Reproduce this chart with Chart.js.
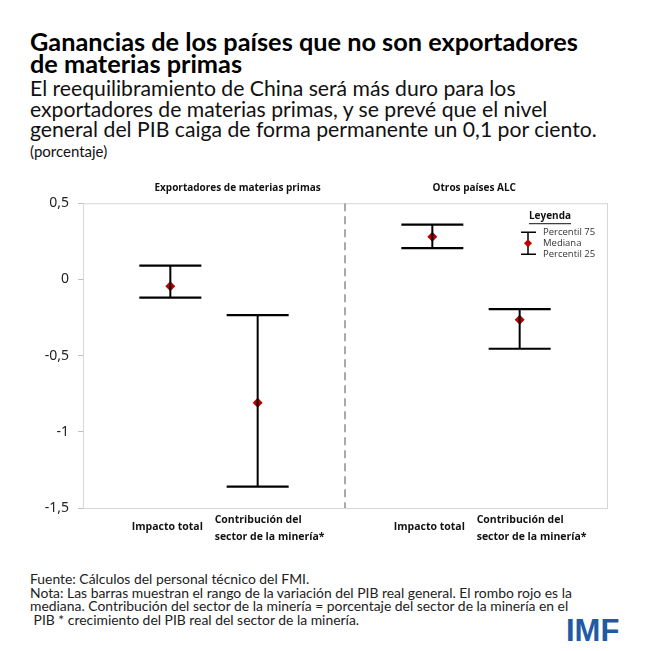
<!DOCTYPE html>
<html>
<head>
<meta charset="utf-8">
<script src="https://cdn.jsdelivr.net/npm/chart.js@4.4.0/dist/chart.umd.min.js"></script>
<style>
  body { margin: 0; background: #fff; width: 650px; height: 651px; position: relative; overflow: hidden; font-family: Lato, sans-serif; color: #111; }
  .titulo { position: absolute; left: 30px; top: 30px; font-weight: bold; font-size: 25.3px; line-height: 22px; color: #000; }
  .sub { position: absolute; left: 30px; top: 78px; font-size: 21.2px; line-height: 20.5px; }
  .unidad { position: absolute; left: 30px; top: 142px; font-size: 15px; }
  .notas { position: absolute; left: 30px; top: 572px; font-size: 13.9px; line-height: 13.7px; color: #222; }
  .imf { position: absolute; left: 566px; top: 613px; font: bold 31px 'Liberation Sans', sans-serif; color: #1f5aa6; }
  #marco { position: absolute; left: 0; top: 170px; width: 650px; height: 380px; }
</style>
</head>
<body>
<div class="titulo">Ganancias de los países que no son exportadores<br>de materias primas</div>
<div class="sub">El reequilibramiento de China será más duro para los<br>exportadores de materias primas, y se prevé que el nivel<br>general del PIB caiga de forma permanente un 0,1 por ciento.</div>
<div class="unidad">(porcentaje)</div>
<div id="marco"><canvas id="grafico"></canvas></div>
<div class="notas">Fuente: Cálculos del personal técnico del FMI.<br>Nota: Las barras muestran el rango de la variación del PIB real general. El rombo rojo es la<br>mediana. Contribución del sector de la minería = porcentaje del sector de la minería en el<br>&nbsp;PIB * crecimiento del PIB real del sector de la minería.</div>
<div class="imf">IMF</div>

<script>
// datos
const categorias = [['Impacto total'], ['Contribución del', 'sector de la minería*'], ['Impacto total'], ['Contribución del', 'sector de la minería*']];
const posiciones = [1, 2, 4, 5];
const percentil75 = [0.09, -0.235, 0.36, -0.195];
const mediana = [-0.045, -0.81, 0.28, -0.265];
const percentil25 = [-0.12, -1.36, 0.205, -0.455];
const grupos = ['Exportadores de materias primas', 'Otros países ALC'];
const separador = 3;

const rangos = [];
posiciones.forEach((x, i) => {
    rangos.push({ x: x, y: percentil75[i] }, { x: x, y: percentil25[i] }, { x: x, y: null });
});
const puntosMediana = posiciones.map((x, i) => ({ x: x, y: mediana[i] }));

const fuenteChart = "'Open Sans', sans-serif";

const textos = {
    id: 'textos',
    beforeDatasetsDraw(chart) {
        const { ctx, chartArea: a } = chart;
        ctx.save();
        ctx.strokeStyle = '#d6d6d6';
        ctx.lineWidth = 1;
        ctx.strokeRect(a.left + 0.5, a.top + 0.5, a.right - a.left, a.bottom - a.top);
        ctx.restore();
    },
    afterDraw(chart) {
        const { ctx, chartArea: a, scales } = chart;
        const x = scales.x;
        ctx.save();
        ctx.fillStyle = '#111';
        ctx.textBaseline = 'middle';

        // etiquetas de categoria
        ctx.font = 'bold 10.5px ' + fuenteChart;
        categorias.forEach((lineas, i) => {
            const px = x.getPixelForValue(posiciones[i]);
            if (lineas.length === 1) {
                ctx.textAlign = 'center';
                ctx.fillText(lineas[0], px - 3, a.bottom + 19);
            } else {
                ctx.textAlign = 'left';
                lineas.forEach((l, j) => ctx.fillText(l, px - 43, a.bottom + 12 + j * 17));
            }
        });

        // titulos de panel
        ctx.textAlign = 'center';
        ctx.font = 'bold 10px ' + fuenteChart;
        ctx.fillText(grupos[0], x.getPixelForValue(1.77), a.top - 15);
        ctx.fillText(grupos[1], x.getPixelForValue(4.48), a.top - 15);

        // leyenda
        const lx = a.right - 79, ly = a.top + 13;
        ctx.font = 'bold 10px ' + fuenteChart;
        ctx.fillText('Leyenda', lx + 22, ly);
        const w = ctx.measureText('Leyenda').width;
        ctx.fillRect(lx + 22 - w / 2, ly + 7, w, 1);
        ctx.strokeStyle = '#000';
        ctx.lineWidth = 1.5;
        ctx.beginPath();
        ctx.moveTo(lx - 7, ly + 16); ctx.lineTo(lx + 8, ly + 16);
        ctx.moveTo(lx - 7, ly + 38); ctx.lineTo(lx + 8, ly + 38);
        ctx.moveTo(lx, ly + 16); ctx.lineTo(lx, ly + 38);
        ctx.stroke();
        ctx.fillStyle = '#c00000';
        ctx.beginPath();
        ctx.moveTo(lx, ly + 23); ctx.lineTo(lx + 4, ly + 27); ctx.lineTo(lx, ly + 31); ctx.lineTo(lx - 4, ly + 27);
        ctx.closePath(); ctx.fill();
        ctx.fillStyle = '#333';
        ctx.textAlign = 'left';
        ctx.font = '9.5px ' + fuenteChart;
        ctx.fillText('Percentil 75', lx + 15, ly + 16);
        ctx.fillText('Mediana', lx + 15, ly + 27);
        ctx.fillText('Percentil 25', lx + 15, ly + 38);
        ctx.restore();
    }
};

new Chart(document.getElementById('grafico'), {
    type: 'line',
    data: {
        datasets: [
            {
                label: 'separador',
                data: [{ x: separador, y: 0.5 }, { x: separador, y: -1.5 }],
                borderColor: '#8c8c8c',
                borderWidth: 1.5,
                borderDash: [8, 5],
                pointRadius: 0
            },
            {
                label: 'rango',
                data: rangos,
                borderColor: '#000',
                borderWidth: 2,
                spanGaps: false,
                pointStyle: 'line',
                pointRadius: 31,
                pointBorderWidth: 2.2,
                pointBorderColor: '#000'
            },
            {
                label: 'mediana',
                data: puntosMediana,
                showLine: false,
                pointStyle: 'rectRot',
                pointRadius: 5,
                pointBorderWidth: 0,
                pointBackgroundColor: '#c00000'
            }
        ]
    },
    options: {
        responsive: true,
        maintainAspectRatio: false,
        animation: false,
        events: [],
        layout: { padding: { top: 33, right: 43, bottom: 42, left: 0 } },
        plugins: { legend: { display: false }, tooltip: { enabled: false } },
        scales: {
            x: { type: 'linear', min: 0, max: 6, display: false },
            y: {
                min: -1.5,
                max: 0.5,
                afterFit(s) { s.width = 83; },
                ticks: {
                    stepSize: 0.5,
                    padding: 9,
                    color: '#222',
                    font: { family: "'Noto Sans', sans-serif", size: 14 },
                    callback: v => String(v).replace('.', ',')
                },
                grid: { drawOnChartArea: false, tickLength: 5, color: '#bfbfbf' },
                border: { color: '#d6d6d6' }
            }
        }
    },
    plugins: [textos]
});
</script>
</body>
</html>
